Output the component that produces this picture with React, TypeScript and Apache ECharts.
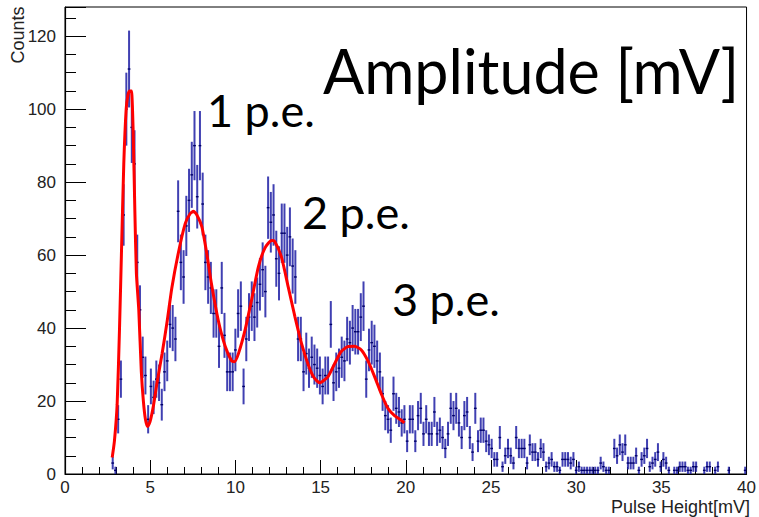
import React, { useEffect, useRef } from "react";
import * as echarts from "echarts";

// Histogram: bin start (centre of first filled bin) and bin width in mV
const BIN_FIRST_CENTER = 2.8;
const BIN_WIDTH = 0.16;

// Counts per bin (bins from 2.8 mV to 39.92 mV)
const counts = [
  3, 1, 15, 26, 71, 100, 111, 95, 85, 58,
  45, 32, 27, 15, 24, 21, 26, 25, 19, 28,
  31, 41, 40, 37, 72, 58, 54, 68, 75, 82,
  90, 76, 90, 74, 58, 54, 51, 44, 44, 35,
  51, 38, 28, 28, 28, 34, 44, 46, 24, 37,
  43, 46, 43, 47, 52, 56, 50, 73, 69, 71,
  59, 55, 66, 66, 60, 65, 57, 54, 37, 37,
  28, 33, 29, 32, 30, 29, 27, 24, 27, 27,
  41, 25, 28, 29, 32, 31, 37, 36, 40, 39,
  39, 43, 46, 26, 34, 36, 35, 31, 28, 22,
  16, 15, 12, 22, 18, 17, 14, 15, 9, 15,
  15, 9, 16, 18, 11, 15, 11, 11, 17, 11,
  12, 10, 7, 11, 18, 16, 18, 14, 10, 16,
  17, 10, 6, 18, 9, 12, 12, 9, 8, 7,
  4, 4, 10, 2, 5, 7, 5, 3, 10, 7,
  7, 7, 3, 8, 6, 6, 4, 7, 6, 2,
  3, 4, 2, 2, 1, 4, 4, 4, 3, 4,
  1, 2, 1, 1, 1, 1, 1, 1, 1, 3,
  2, 1, 1, 0, 7, 5, 8, 6, 8, 3,
  3, 3, 5, 1, 4, 5, 7, 2, 3, 4,
  6, 2, 4, 3, 1, 0, 1, 1, 2, 2,
  2, 1, 1, 2, 2, 0, 0, 1, 2, 2,
  0, 1, 2, 0, 0, 0, 1, 0, 0, 0,
  0, 0, 1,
];

// Fit curve
const fitX = [
  2.77, 2.9, 3.06, 3.2, 3.31, 3.45, 3.59, 3.7, 3.8, 3.9, 4.0, 4.1, 4.19, 4.33,
  4.48, 4.6, 4.72, 4.85, 5.0, 5.2, 5.4, 5.7, 6.0, 6.27, 6.67, 7.06, 7.35,
  7.54, 7.74, 8.03, 8.3, 8.6, 9.0, 9.4, 9.78, 9.95, 10.18, 10.57, 10.95,
  11.35, 11.74, 12.12, 12.3, 12.7, 13.1, 13.5, 13.88, 14.27, 14.6, 14.95,
  15.44, 15.83, 16.2, 16.6, 17.0, 17.39, 17.78, 18.17, 18.56, 18.95, 19.34,
  19.72, 19.92,
];
const fitY = [
  4.5, 9, 19, 40, 60, 85, 100, 104, 105, 105, 94, 72, 55, 45,
  28, 20, 15, 13, 14.5, 19, 25, 33, 42, 51, 61, 68.7, 71.4,
  72, 71, 67.8, 61, 52, 42, 35, 31, 30.8, 33, 39.5, 47.7,
  56.8, 62, 64, 63.8, 59.5, 51.3, 43, 35.8, 30, 26.5, 25,
  26.7, 30.3, 33.5, 34.9, 35, 34, 31, 26.7, 22, 18, 16,
  14.8, 14,
];

// Axis ranges and ticks
const X_MIN = 0;
const X_MAX = 40;
const X_STEP = 5;
const Y_MIN = 0;
const Y_MAX = 128;
const Y_STEP = 20;

const annotations = [
  { text: "Amplitude [mV]", x: 323, y: 70, size: 61 },
  { text: "1 p.e.", x: 207, y: 110, size: 45 },
  { text: "2 p.e.", x: 302, y: 212, size: 45 },
  { text: "3 p.e.", x: 392, y: 299, size: 45 },
];

export default function App() {
  const ref = useRef<HTMLDivElement>(null);

  useEffect(() => {
    document.body.style.margin = "0";
    const chart = echarts.init(ref.current!, null, { renderer: "svg" });

    const histData: number[][] = [];
    counts.forEach((c, i) => {
      if (c > 0) histData.push([BIN_FIRST_CENTER + i * BIN_WIDTH, c]);
    });
    const fitData = fitX.map((x, i) => [x, fitY[i]]);

    const labelFont = '"Liberation Sans", Arial, sans-serif';
    const annFont = 'Lato, "Open Sans", sans-serif';

    chart.setOption({
      animation: false,
      grid: {
        left: 65,
        right: 9,
        top: 7,
        bottom: 43,
        show: true,
        borderColor: "#000",
        borderWidth: 1,
        backgroundColor: "transparent",
      },
      xAxis: {
        type: "value",
        min: X_MIN,
        max: X_MAX,
        interval: X_STEP,
        axisLine: { show: true, onZero: false, lineStyle: { color: "#000", width: 1.2 } },
        axisTick: { show: true, inside: true, length: 14, lineStyle: { color: "#000" } },
        minorTick: { show: true, splitNumber: 5, length: 7, lineStyle: { color: "#000" } },
        splitLine: { show: false },
        axisLabel: { color: "#222", fontSize: 17, fontFamily: labelFont, margin: 5 },
      },
      yAxis: {
        type: "value",
        min: Y_MIN,
        max: Y_MAX,
        interval: Y_STEP,
        axisLine: { show: true, onZero: false, lineStyle: { color: "#000", width: 1.2 } },
        axisTick: { show: true, inside: true, length: 21, lineStyle: { color: "#000" } },
        minorTick: { show: true, splitNumber: 4, length: 11, lineStyle: { color: "#000" } },
        splitLine: { show: false },
        axisLabel: {
          color: "#222",
          fontSize: 17,
          fontFamily: labelFont,
          margin: 9,
          showMaxLabel: false,
        },
      },
      series: [
        {
          type: "custom",
          data: histData,
          z: 2,
          renderItem: (params: any, api: any) => {
            const x = api.value(0);
            const y = api.value(1);
            const e = Math.sqrt(y);
            const top = api.coord([x, y + e]);
            const bot = api.coord([x, Math.max(0, y - e)]);
            const l = api.coord([x - BIN_WIDTH / 2, y]);
            const r = api.coord([x + BIN_WIDTH / 2, y]);
            return {
              type: "group",
              children: [
                {
                  type: "line",
                  shape: { x1: top[0], y1: top[1], x2: bot[0], y2: bot[1] },
                  style: { stroke: "rgba(30,30,165,0.85)", lineWidth: 2 },
                },
                {
                  type: "line",
                  shape: { x1: l[0], y1: l[1], x2: r[0], y2: r[1] },
                  style: { stroke: "#000068", lineWidth: 1.4 },
                },
              ],
            };
          },
        },
        {
          type: "line",
          data: fitData,
          z: 3,
          symbol: "none",
          smooth: 0.2,
          lineStyle: { color: "#ff0000", width: 3 },
        },
      ],
      graphic: [
        {
          type: "text",
          x: 18,
          y: 35,
          rotation: Math.PI / 2,
          style: {
            text: "Counts",
            font: `18px ${labelFont}`,
            fill: "#222",
            textAlign: "center",
            textVerticalAlign: "middle",
          },
        },
        {
          type: "text",
          x: 750,
          y: 507,
          style: {
            text: "Pulse Height[mV]",
            font: `18px ${labelFont}`,
            fill: "#222",
            textAlign: "right",
            textVerticalAlign: "middle",
          },
        },
        ...annotations.map((a) => ({
          type: "text",
          x: a.x,
          y: a.y,
          z: 10,
          style: {
            text: a.text,
            font: `${a.size}px ${annFont}`,
            fill: "#000",
            textAlign: "left",
            textVerticalAlign: "middle",
          },
        })),
      ],
    });

    return () => chart.dispose();
  }, []);

  return (
    <div
      ref={ref}
      style={{ position: "absolute", left: 0, top: 0, width: 759, height: 517, background: "#fff" }}
    />
  );
}
